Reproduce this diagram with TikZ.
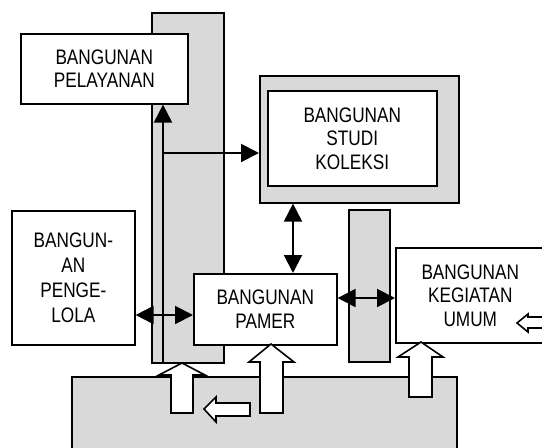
\documentclass[tikz,border=0pt]{standalone}
\usepackage{fontspec}
\setmainfont[FakeStretch=0.82]{Liberation Sans}
\usetikzlibrary{arrows.meta,calc}
\tikzset{
  bx/.style={draw, line width=1.6pt, fill=white, inner sep=0pt, anchor=north west, align=center,
    font=\fontsize{21pt}{23.5pt}\selectfont},
  graybx/.style={draw, line width=1.6pt, fill=gray!30},
  conn/.style={line width=2pt},
  tip/.tip={Triangle[length=18pt 0 0,width=18pt 0]},
  arr/.style={conn, -tip},
  dbl/.style={conn, tip-tip},
  blockarr/.style={draw, line width=1.6pt, fill=white, line join=miter},
}
\begin{document}
\begin{tikzpicture}[x=1pt,y=-1pt]
\useasboundingbox (0,0) rectangle (542,448);
% gray areas
\draw[graybx] (152,13) rectangle (224,363);
\draw[graybx] (349,210) rectangle (390,362);
\draw[graybx] (72,377) rectangle (457,460);
\node[graybx, anchor=north west, minimum width=199pt, minimum height=127pt, inner sep=0pt] (studi) at (259,75) {};
% boxes
\node[bx, minimum width=167pt, minimum height=70pt] (pelayanan) at (20,33) {BANGUNAN\\PELAYANAN};
\node[bx, minimum width=169pt, minimum height=95pt] (studiin) at (267,90) {BANGUNAN\\STUDI\\KOLEKSI};
\node[bx, minimum width=123pt, minimum height=134pt, font=\fontsize{21pt}{25pt}\selectfont] (pengelola) at (11,210) {BANGUN-\\AN\\PENGE-\\LOLA};
\node[bx, minimum width=143pt, minimum height=71pt] (pamer) at (193,273) {BANGUNAN\\PAMER};
\node[bx, minimum width=149pt, minimum height=95pt] (kegiatan) at (395,247) {BANGUNAN\\KEGIATAN\\UMUM};
% connectors
\coordinate (colbot) at (163,363);
\coordinate (br) at (163,153);
\draw[conn] (colbot) -- (br);
\draw[arr] (br) -- (colbot |- pelayanan.south);
\draw[arr] (br) -- (br -| studi.west);
\coordinate (v1) at (293,240);
\draw[dbl] (v1 |- studi.south) -- (v1 |- pamer.north);
\coordinate (h1) at (160,315);
\draw[dbl] (pengelola.east |- h1) -- (pamer.west |- h1);
\coordinate (h2) at (360,298);
\draw[dbl] (pamer.east |- h2) -- (kegiatan.west |- h2);
% block arrows
\draw[blockarr] (171,413) -- (171,375) -- (159,375) -- (182,363) -- (205,375) -- (193,375) -- (193,413) -- cycle;
\draw[blockarr] (260,413) -- (260,362) -- (249,362) -- (271,344) -- (294,362) -- (283,362) -- (283,413) -- cycle;
\draw[blockarr] (409,397) -- (409,357) -- (398,357) -- (421,342) -- (443,357) -- (432,357) -- (432,397) -- cycle;
\draw[blockarr] (250,403) -- (216,403) -- (216,397) -- (204,409) -- (216,422) -- (216,416) -- (250,416) -- cycle;
\draw[blockarr] (550,317) -- (528,317) -- (528,314) -- (517,323) -- (528,332) -- (528,328) -- (550,328);
\end{tikzpicture}
\end{document}
